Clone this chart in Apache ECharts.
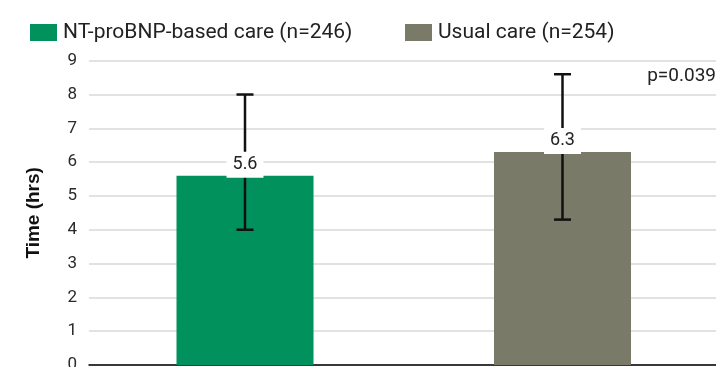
<!DOCTYPE html>
<html>
<head>
<meta charset="utf-8">
<script src="https://cdn.jsdelivr.net/npm/echarts@6/dist/echarts.min.js"></script>
<style>
  html, body { margin: 0; padding: 0; background: #fff; }
  #chart { width: 716px; height: 367px; }
</style>
</head>
<body>
<div id="chart"></div>
<script>
// Time to event (hours), mean with error range, per care group
const groups = ['NT-proBNP-based care (n=246)', 'Usual care (n=254)'];
const meanHours = [5.6, 6.3];
const lowerHours = [4.0, 4.3];
const upperHours = [8.0, 8.6];
const yTicks = [0, 1, 2, 3, 4, 5, 6, 7, 8, 9];
const pValueText = 'p=0.039';

const colors = ['#00915c', '#7a7a68'];
const FONT = 'Roboto, "Liberation Sans", sans-serif';

const chart = echarts.init(document.getElementById('chart'), null, { renderer: 'canvas' });

// One bar series per group so each gets its own legend entry; the bars overlap
// at their own category slot.
const barSeries = groups.map((name, i) => ({
  name: name,
  type: 'bar',
  xAxisIndex: 1,
  yAxisIndex: 1,
  barWidth: 137,
  barGap: '-100%',
  z: 2,
  itemStyle: { color: colors[i] },
  data: meanHours.map((v, j) => (j === i ? v : null))
}));

// Error bars with caps, plus the value label on a white box above each bar.
const errorSeries = {
  type: 'custom',
  xAxisIndex: 1,
  yAxisIndex: 1,
  z: 5,
  silent: true,
  data: meanHours.map((v, i) => [i, v, lowerHours[i], upperHours[i]]),
  renderItem: function (params, api) {
    const i = api.value(0);
    const top = api.coord([i, api.value(3)]);
    const bot = api.coord([i, api.value(2)]);
    const mean = api.coord([i, api.value(1)]);
    const capHalf = 8.5;
    const lineStyle = { stroke: '#111', lineWidth: 2.5 };
    return {
      type: 'group',
      children: [
        { type: 'line', shape: { x1: top[0], y1: top[1], x2: bot[0], y2: bot[1] }, style: lineStyle },
        { type: 'line', shape: { x1: top[0] - capHalf, y1: top[1], x2: top[0] + capHalf, y2: top[1] }, style: lineStyle },
        { type: 'line', shape: { x1: bot[0] - capHalf, y1: bot[1], x2: bot[0] + capHalf, y2: bot[1] }, style: lineStyle },
        {
          type: 'text',
          x: mean[0],
          y: mean[1] - 11,
          z2: 10,
          style: {
            text: String(api.value(1)),
            fill: '#222',
            font: '18px ' + FONT,
            align: 'center',
            verticalAlign: 'middle',
            backgroundColor: '#fff',
            padding: [4, 6]
          }
        }
      ]
    };
  }
};

const legendText = { fontFamily: FONT, fontSize: 21, color: '#222', padding: [0, 0, 0, 1] };

const option = {
  animation: false,
  backgroundColor: '#fff',
  legend: [
    {
      data: [groups[0]],
      left: 25, top: 17,
      itemWidth: 27, itemHeight: 17,
      icon: 'rect',
      textStyle: legendText
    },
    {
      data: [groups[1]],
      left: 400, top: 17,
      itemWidth: 27, itemHeight: 17,
      icon: 'rect',
      textStyle: legendText
    }
  ],
  grid: [
    // axes, gridlines and baseline
    { left: 89, right: 0, top: 60.7, bottom: 2, outerBoundsMode: 'none', containLabel: false },
    // bar layout band
    { left: 86.25, right: -5.25, top: 60.7, bottom: 2, outerBoundsMode: 'none', containLabel: false }
  ],
  xAxis: [
    {
      gridIndex: 0, type: 'category', data: groups,
      axisLine: { show: true, lineStyle: { color: '#000', width: 1.5 } },
      axisTick: { show: false }, axisLabel: { show: false }
    },
    {
      gridIndex: 1, type: 'category', data: groups, show: false
    }
  ],
  yAxis: [
    {
      gridIndex: 0, type: 'value',
      min: yTicks[0], max: yTicks[yTicks.length - 1], interval: 1,
      name: 'Time (hrs)',
      nameLocation: 'middle',
      nameGap: 46,
      nameTextStyle: { fontFamily: '"Liberation Sans", Arial, sans-serif', fontWeight: 'bold', fontSize: 19, color: '#111' },
      axisLine: { show: false }, axisTick: { show: false },
      axisLabel: { fontFamily: FONT, fontSize: 17, color: '#2a2a2a', margin: 12 },
      splitLine: { lineStyle: { color: '#d9d9d9', width: 1.5 } }
    },
    {
      gridIndex: 1, type: 'value',
      min: yTicks[0], max: yTicks[yTicks.length - 1], interval: 1, show: false,
      splitLine: { show: false }
    }
  ],
  graphic: [
    {
      type: 'text', right: 0, top: 67,
      style: { text: pValueText, fill: '#222', font: '19px ' + FONT }
    }
  ],
  series: [...barSeries, errorSeries]
};

chart.setOption(option);
</script>
</body>
</html>
